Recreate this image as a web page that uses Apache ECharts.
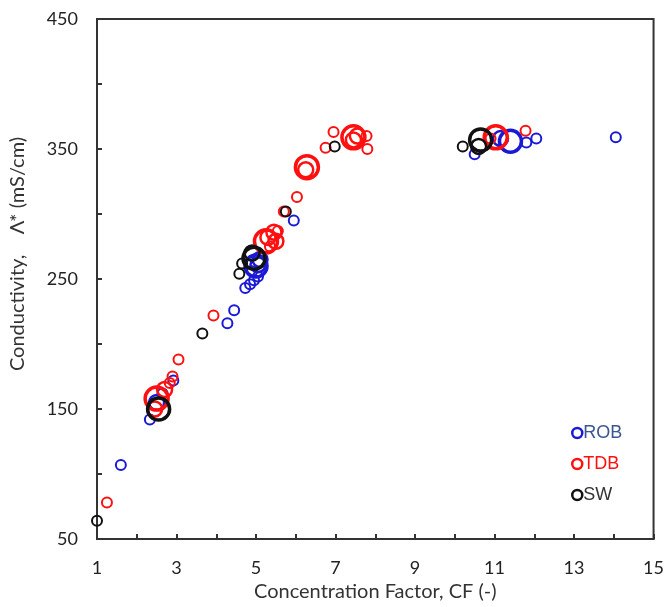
<!DOCTYPE html>
<html><head><meta charset="utf-8">
<script src="https://cdn.jsdelivr.net/npm/echarts@6/dist/echarts.min.js"></script>
<style>html,body{margin:0;padding:0;background:#fff;overflow:hidden}#c{width:667px;height:607px}</style>
</head><body><div id="c"></div>
<script>
// Data (x = CF, y = conductivity)
var robSmall = [[1.6,107],[2.33,142],[2.65,162],[2.92,172],[4.28,216],[4.45,226],[4.73,243],[4.85,246],[4.95,249],[5.05,252],[4.9,256],[5.95,295],[10.5,346],[11.8,355],[12.05,358],[14.05,359]];
var robMedium = [[2.5,155],[5.05,261],[5.1,265],[11.15,358]];
var robLarge = [[11.4,356],[5.0,260]];
var tdbSmall = [[1.25,78],[2.83,170],[2.9,175],[3.05,188],[3.93,222],[5.35,275],[5.55,287],[5.7,302],[6.03,313],[6.75,351],[6.95,363],[7.78,360],[7.8,350],[11.78,364],[10.9,358]];
var tdbMedium = [[2.45,150],[2.7,165],[5.3,282],[5.45,286],[5.5,279],[6.25,334],[7.45,357],[7.55,360]];
var tdbLarge = [[2.5,158],[5.25,279],[6.28,336],[7.45,359],[11.03,359]];
var swSmall = [[1.0,64],[3.65,208],[4.58,254],[4.65,262],[5.75,302],[6.98,352],[10.2,352]];
var swMedium = [[4.9,270],[10.6,352]];
var swLarge = [[2.55,150],[4.95,266],[10.65,357]];
var xLabels = [1,3,5,7,9,11,13,15];
var yLabels = [50,150,250,350,450];

var colors = {ROB:'#1a1ad6', TDB:'#ff1010', SW:'#111111'};
function ser(name, data, size, bw){
  return {name:name, type:'scatter', data:data, symbol:'circle', symbolSize:size,
    itemStyle:{color:'rgba(0,0,0,0)', borderColor:colors[name], borderWidth:bw, opacity:1},
    emphasis:{disabled:true}};
}
var FONT = 'Lato';
var chart = echarts.init(document.getElementById('c'), null, {renderer:'canvas'});
chart.setOption({
  animation:false,
  grid:{left:97, right:10, top:19, bottom:63, show:true, borderColor:'#333', borderWidth:2, backgroundColor:'transparent'},
  graphic:[{type:'text', x:18, y:254, rotation:Math.PI/2,
    style:{text:'Conductivity,    \u039b* (mS/cm)', fontSize:20, fontFamily:FONT, fill:'#333',
      textAlign:'center', textVerticalAlign:'middle'}}],
  xAxis:{type:'value', min:1, max:15, interval:1,
    axisLine:{show:true, lineStyle:{color:'#333', width:2}},
    axisTick:{show:true, inside:true, length:5, lineStyle:{color:'#333', width:2}},
    splitLine:{show:false},
    axisLabel:{margin:20, fontSize:18, color:'#222', fontFamily:FONT,
      formatter:function(v){return xLabels.indexOf(v)>=0 ? String(v) : '';}},
    name:'Concentration Factor, CF (-)', nameLocation:'middle', nameGap:43,
    nameTextStyle:{fontSize:20, color:'#333', fontFamily:FONT}},
  yAxis:{type:'value', min:50, max:450, interval:50,
    axisLine:{show:true, lineStyle:{color:'#333', width:2}},
    axisTick:{show:true, inside:true, length:5, lineStyle:{color:'#333', width:2}},
    splitLine:{show:false},
    axisLabel:{margin:19, fontSize:18, color:'#222', fontFamily:FONT,
      formatter:function(v){return yLabels.indexOf(v)>=0 ? String(v) : '';}}},
  legend:{orient:'vertical', left:566, top:419, itemGap:13, itemWidth:10, itemHeight:10,
    icon:'circle',
    textStyle:{fontSize:18, fontFamily:'Liberation Sans', padding:[0,0,0,-4]},
    data:[
      {name:'ROB', textStyle:{color:'#3b5590'}, itemStyle:{color:'#fff', borderColor:colors.ROB, borderWidth:2.5}},
      {name:'TDB', textStyle:{color:'#ff1010'}, itemStyle:{color:'#fff', borderColor:colors.TDB, borderWidth:2.5}},
      {name:'SW', textStyle:{color:'#333'}, itemStyle:{color:'#fff', borderColor:colors.SW, borderWidth:2.5}}
    ]},
  series:[
    ser('ROB', robSmall, 10, 2), ser('ROB', robMedium, 15, 2.5), ser('ROB', robLarge, 22, 3.5),
    ser('TDB', tdbSmall, 10, 2), ser('TDB', tdbMedium, 15, 2.5), ser('TDB', tdbLarge, 23, 3.5),
    ser('SW', swSmall, 10, 2), ser('SW', swMedium, 15, 2.5), ser('SW', swLarge, 22, 3.5)
  ]
});
</script></body></html>
